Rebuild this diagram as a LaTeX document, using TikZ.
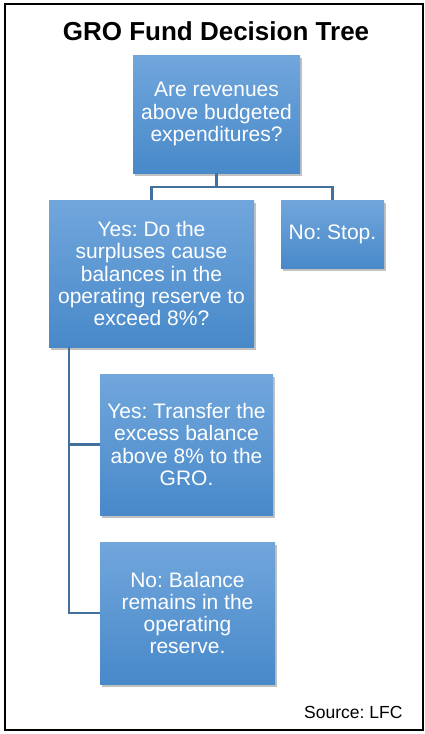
\documentclass[tikz,border=0pt]{standalone}
\usepackage{fontspec}
\setmainfont{Liberation Sans}
\usetikzlibrary{shadows}
\definecolor{boxtop}{RGB}{113,166,220}
\definecolor{boxbot}{RGB}{72,137,201}
\definecolor{linkc}{RGB}{65,113,156}
\tikzset{
  box/.style={rectangle, top color=boxtop, bottom color=boxbot, draw=none,
    text=white, align=center, inner sep=2pt,
    font=\fontsize{21}{22.2}\selectfont,
    drop shadow={opacity=0.35, shadow xshift=2pt, shadow yshift=-3pt, fill=black!70}},
  link/.style={draw=linkc, line width=2.2pt},
}
\begin{document}
\frenchspacing
\begin{tikzpicture}[x=1pt,y=-1pt]
\useasboundingbox (0,0) rectangle (425,734);
\draw[line width=2.2pt] (5,4) rectangle (423,730);
\node[font=\fontsize{26}{30}\bfseries\selectfont, anchor=base] (title) at (216,40) {GRO Fund Decision Tree};
\node[box, minimum width=167pt, minimum height=118pt] (b1) at (216.5,114) {Are revenues\\above budgeted\\expenditures?};
\node[box, minimum width=205pt, minimum height=147pt] (b2) at (151.5,273.5) {Yes: Do the\\surpluses cause\\balances in the\\operating reserve to\\exceed 8\%?};
\node[box, minimum width=103pt, minimum height=68pt] (b3) at (332.5,234) {No: Stop.};
\node[box, minimum width=173pt, minimum height=141pt] (b4) at (186.5,444.5) {Yes: Transfer the\\excess balance\\above 8\% to the\\GRO.};
\node[box, minimum width=175pt, minimum height=142pt] (b5) at (187.5,613) {No: Balance\\remains in the\\operating\\reserve.};
\coordinate (split) at (216.5,187);
\coordinate (trunk) at (69,347);
\draw[link] (b1.south) -- (split) -| (b2.north);
\draw[link] (split) -| (b3.north);
\draw[link] (trunk) |- (b4.west);
\draw[link] (trunk) |- (b5.west);
\node[font=\fontsize{17.5}{20}\selectfont, anchor=base east] (src) at (406,718) {Source: LFC};
\end{tikzpicture}
\end{document}
